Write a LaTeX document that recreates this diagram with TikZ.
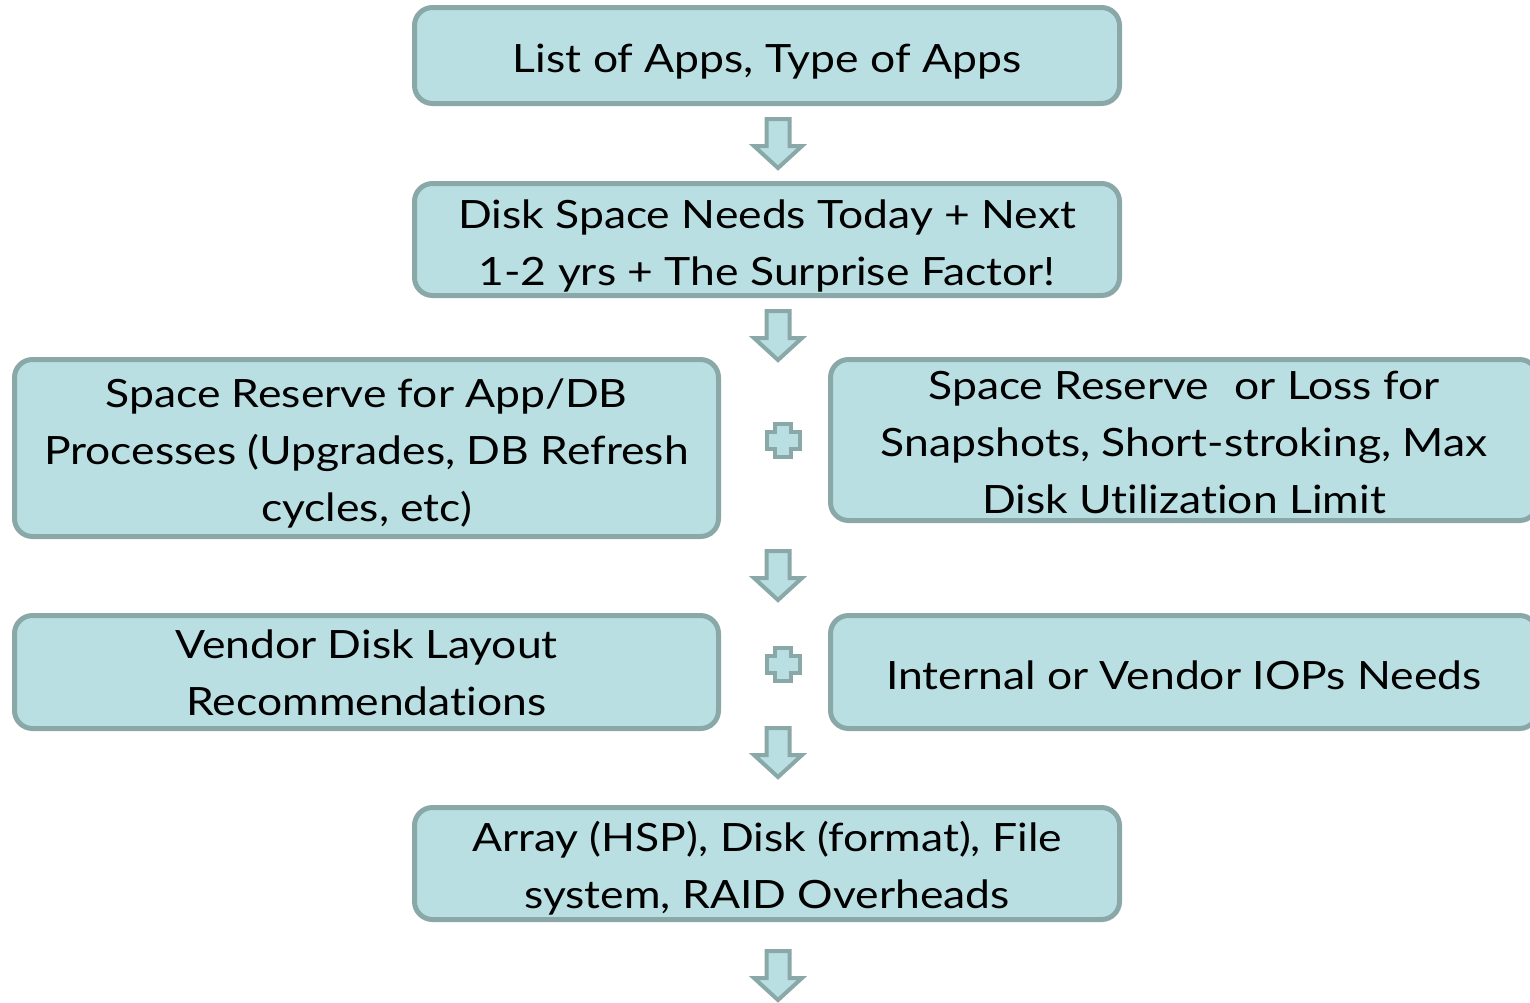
\documentclass[tikz,border=0pt]{standalone}
\usepackage{fontspec}
\setmainfont{Lato}[FakeStretch=1.14, RawFeature={-liga}]
\definecolor{boxfill}{RGB}{185,223,227}
\definecolor{boxline}{RGB}{138,168,168}
\begin{document}
\begin{tikzpicture}[x=1pt,y=-1pt,
  box/.style={draw=boxline, fill=boxfill, line width=5pt, rounded corners=18pt, inner sep=0pt},
  txt/.style={inner sep=0pt, align=center, font=\fontsize{39}{57}\selectfont},
  blk/.style={draw=boxline, fill=boxfill, line width=4pt, line join=miter},
  darrow/.pic={\path[blk] (-11.5,2) -- (11.5,2) -- (11.5,29) -- (24,29) -- (0,51) -- (-24,29) -- (-11.5,29) -- cycle;},
  plussign/.pic={\path[blk] (-8,-16.5) -- (8,-16.5) -- (8,-8.5) -- (16.5,-8.5) -- (16.5,8.5) -- (8,8.5) -- (8,16.5) -- (-8,16.5) -- (-8,8.5) -- (-16.5,8.5) -- (-16.5,-8.5) -- (-8,-8.5) -- cycle;}]
\useasboundingbox (0,0) rectangle (1530,1002);

\node[box, minimum width=705pt, minimum height=96pt] (apps) at (767,55.5) {};
\node[box, minimum width=705pt, minimum height=112pt] (disk) at (767,239.5) {};
\node[box, minimum width=704pt, minimum height=177pt] (reserve) at (366.5,448) {};
\node[box, minimum width=707pt, minimum height=161pt] (snap) at (1184,440) {};
\node[box, minimum width=704pt, minimum height=113pt] (vendor) at (366.5,672) {};
\node[box, minimum width=707pt, minimum height=113pt] (iops) at (1184,672) {};
\node[box, minimum width=705pt, minimum height=112pt] (array) at (767,863.5) {};

\node[txt] (appsT) at ([yshift=-6pt]apps.center) {List of Apps, Type of Apps};
\node[txt] (diskT) at ([yshift=-6pt]disk.center) {Disk Space Needs Today + Next\\1-2 yrs + The Surprise Factor!};
\node[txt] (reserveT) at ([yshift=-5pt]reserve.center) {Space Reserve for App/DB\\Processes (Upgrades, DB Refresh\\cycles, etc)};
\node[txt] (snapT) at ([yshift=-2pt]snap.center) {Space Reserve\hspace{0.35em} or Loss for\\Snapshots, Short-stroking, Max\\Disk Utilization Limit};
\node[txt] (vendorT) at ([yshift=-1pt]vendor.center) {Vendor Disk Layout\\Recommendations};
\node[txt] (iopsT) at ([yshift=-3pt]iops.center) {Internal or Vendor IOPs Needs};
\node[txt] (arrayT) at ([yshift=-5pt]array.center) {Array (HSP), Disk (format), File\\system, RAID Overheads};

\pic (a1) at (778,117) {darrow};
\pic (a2) at (778,309) {darrow};
\pic (p1) at (783,440) {plussign};
\pic (a3) at (778,549) {darrow};
\pic (p2) at (783,664) {plussign};
\pic (a4) at (778,726) {darrow};
\pic (a5) at (778,949) {darrow};
\end{tikzpicture}
\end{document}
